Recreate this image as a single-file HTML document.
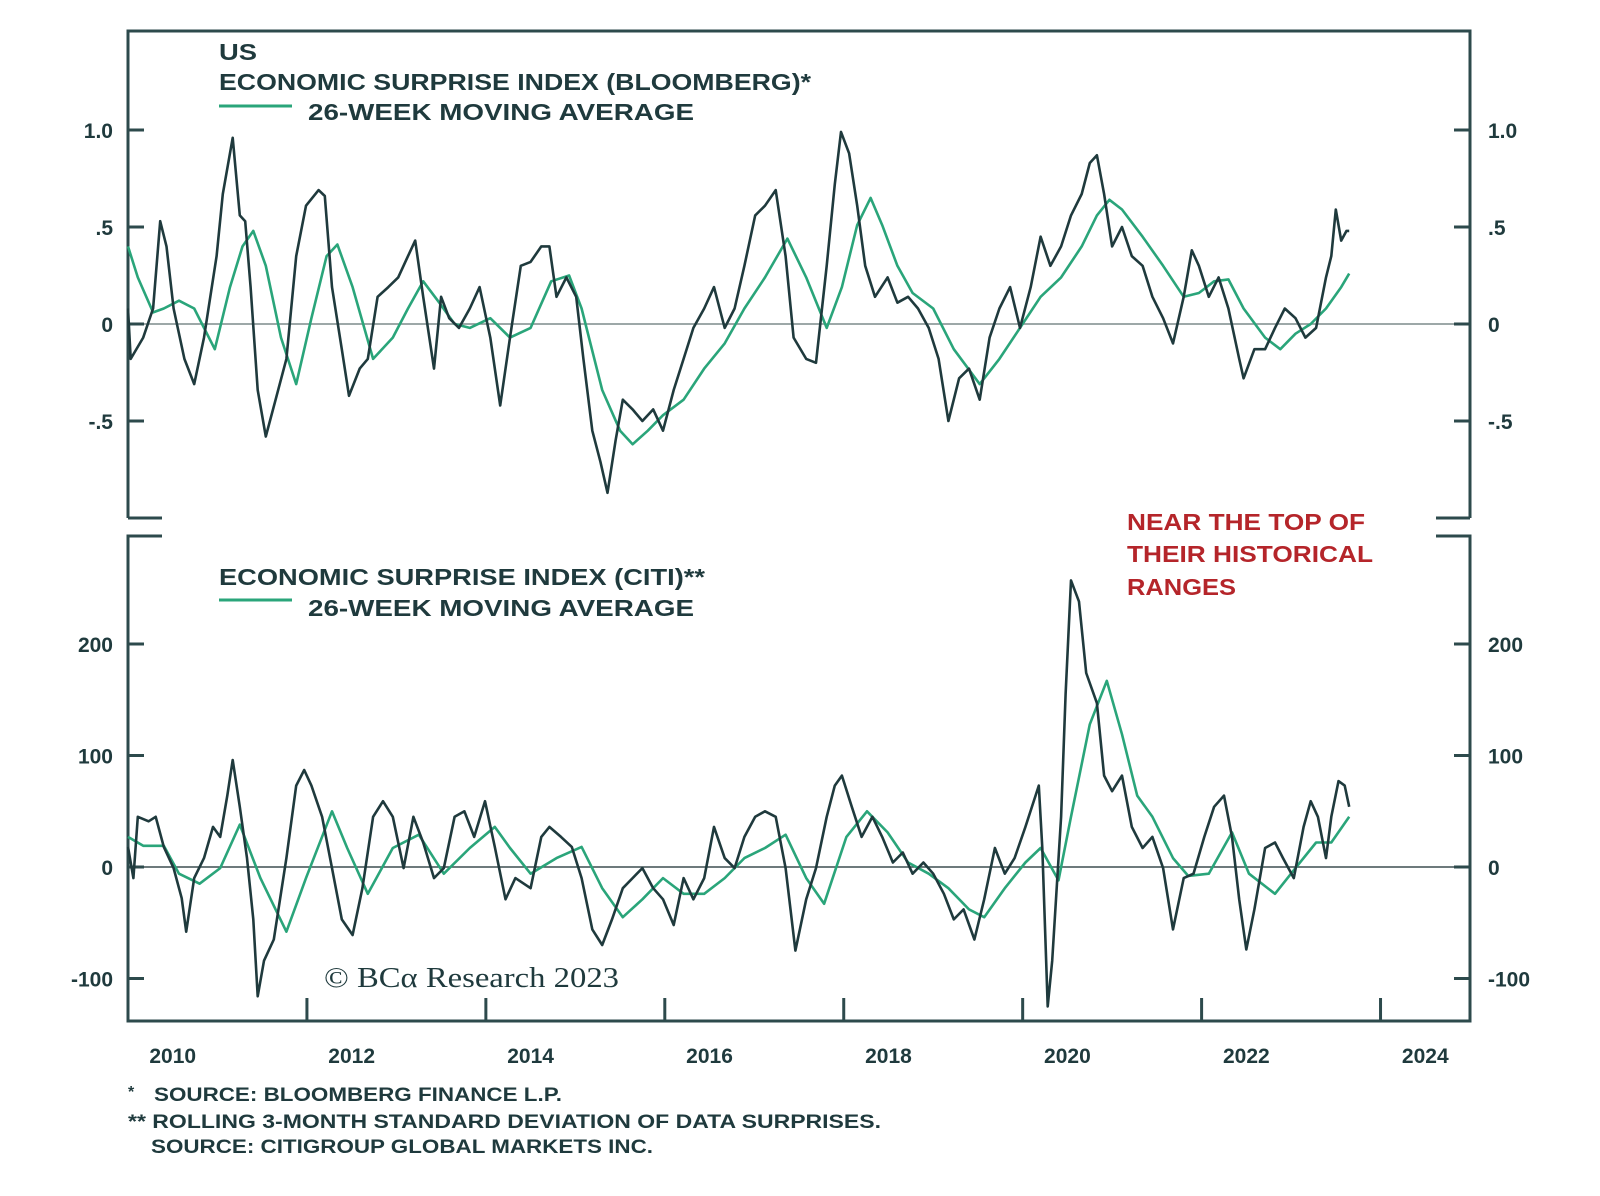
<!DOCTYPE html>
<html><head><meta charset="utf-8"><style>
html,body{margin:0;padding:0;background:#fff;}
svg{display:block;}
text{font-family:"Liberation Sans",sans-serif;fill:#1f3a3d;font-weight:bold;}
</style></head><body>
<svg id="chart" width="1600" height="1196" viewBox="0 0 1600 1196" xmlns="http://www.w3.org/2000/svg">
<g id="frames" stroke="#2d4a4c" stroke-width="3" fill="none">
<path d="M128 518 L128 31 L1470 31 L1470 518 M128 518 L162 518 M1436 518 L1470 518"/>
<path d="M162 536 L128 536 L128 1021 L1470 1021 L1470 536 L1436 536"/>
</g>
<g id="grid"></g>
<g id="series"></g>
<g>
<text x="219" y="60" font-size="23" textLength="38" lengthAdjust="spacingAndGlyphs">US</text>
<text x="219" y="90" font-size="23" textLength="592" lengthAdjust="spacingAndGlyphs">ECONOMIC SURPRISE INDEX (BLOOMBERG)*</text>
<line x1="219" y1="106" x2="292" y2="106" stroke="#2aa57a" stroke-width="3"/>
<text x="308" y="120" font-size="23" textLength="386" lengthAdjust="spacingAndGlyphs">26-WEEK MOVING AVERAGE</text>
</g>
<g>
<text x="219" y="585" font-size="23" textLength="486" lengthAdjust="spacingAndGlyphs">ECONOMIC SURPRISE INDEX (CITI)**</text>
<line x1="219" y1="600" x2="292" y2="600" stroke="#2aa57a" stroke-width="3"/>
<text x="308" y="616" font-size="23" textLength="386" lengthAdjust="spacingAndGlyphs">26-WEEK MOVING AVERAGE</text>
</g>
<g>
<text x="1127" y="530" font-size="23" style="fill:#b5252a" textLength="238" lengthAdjust="spacingAndGlyphs">NEAR THE TOP OF</text>
<text x="1127" y="562" font-size="23" style="fill:#b5252a" textLength="246" lengthAdjust="spacingAndGlyphs">THEIR HISTORICAL</text>
<text x="1127" y="595" font-size="23" style="fill:#b5252a" textLength="109" lengthAdjust="spacingAndGlyphs">RANGES</text>
</g>
<text x="324" y="987" font-size="28" style="font-family:'Liberation Serif',serif;font-weight:normal" textLength="295" lengthAdjust="spacingAndGlyphs">© BCα Research 2023</text>
<g font-size="19">
<text x="128" y="1097" font-size="16">*</text>
<text x="154" y="1101" textLength="408" lengthAdjust="spacingAndGlyphs">SOURCE: BLOOMBERG FINANCE L.P.</text>
<text x="128" y="1128" textLength="753" lengthAdjust="spacingAndGlyphs">** ROLLING 3-MONTH STANDARD DEVIATION OF DATA SURPRISES.</text>
<text x="151" y="1153" textLength="502" lengthAdjust="spacingAndGlyphs">SOURCE: CITIGROUP GLOBAL MARKETS INC.</text>
</g>
</svg>
<script>
const topTicks=[1.0,0.5,0,-0.5];
const topTickLabels=["1.0",".5","0","-.5"];
const botTicks=[200,100,0,-100];
const botTickLabels=["200","100","0","-100"];
const xTickYears=[2012,2014,2016,2018,2020,2022,2024];
const xLabelYears=[2010,2012,2014,2016,2018,2020,2022,2024];

const bbgDates=[2010.00,2010.03,2010.17,2010.28,2010.36,2010.43,2010.51,2010.63,2010.74,2010.85,2010.99,2011.06,2011.17,2011.25,2011.31,2011.37,2011.45,2011.54,2011.65,2011.77,2011.88,2011.99,2012.13,2012.20,2012.28,2012.39,2012.47,2012.59,2012.68,2012.79,2012.91,2013.02,2013.13,2013.21,2013.30,2013.42,2013.50,2013.59,2013.70,2013.82,2013.93,2014.05,2014.16,2014.27,2014.39,2014.50,2014.62,2014.71,2014.79,2014.90,2015.01,2015.09,2015.19,2015.28,2015.36,2015.45,2015.53,2015.64,2015.75,2015.87,2015.98,2016.10,2016.21,2016.32,2016.44,2016.55,2016.67,2016.78,2016.89,2017.01,2017.12,2017.24,2017.35,2017.44,2017.58,2017.69,2017.81,2017.90,2017.97,2018.06,2018.15,2018.24,2018.35,2018.49,2018.60,2018.72,2018.83,2018.95,2019.06,2019.17,2019.29,2019.40,2019.52,2019.63,2019.74,2019.86,2019.97,2020.09,2020.20,2020.31,2020.43,2020.54,2020.66,2020.75,2020.83,2020.91,2021.00,2021.11,2021.22,2021.34,2021.45,2021.57,2021.68,2021.80,2021.89,2021.97,2022.08,2022.19,2022.30,2022.42,2022.47,2022.59,2022.71,2022.82,2022.93,2023.05,2023.16,2023.28,2023.39,2023.45,2023.50,2023.56,2023.62,2023.65];
const bbgValues=[0.08,-0.18,-0.07,0.08,0.53,0.40,0.08,-0.18,-0.31,-0.07,0.35,0.67,0.96,0.56,0.53,0.19,-0.34,-0.58,-0.39,-0.18,0.35,0.61,0.69,0.66,0.19,-0.13,-0.37,-0.23,-0.18,0.14,0.19,0.24,0.35,0.43,0.14,-0.23,0.14,0.03,-0.02,0.08,0.19,-0.07,-0.42,-0.07,0.30,0.32,0.40,0.40,0.14,0.24,0.14,-0.18,-0.55,-0.71,-0.87,-0.60,-0.39,-0.44,-0.50,-0.44,-0.55,-0.34,-0.18,-0.02,0.08,0.19,-0.02,0.08,0.30,0.56,0.61,0.69,0.35,-0.07,-0.18,-0.20,0.30,0.72,0.99,0.88,0.61,0.30,0.14,0.24,0.11,0.14,0.08,-0.02,-0.18,-0.50,-0.28,-0.23,-0.39,-0.07,0.08,0.19,-0.02,0.19,0.45,0.30,0.40,0.56,0.67,0.83,0.87,0.67,0.40,0.50,0.35,0.30,0.14,0.03,-0.10,0.14,0.38,0.30,0.14,0.24,0.08,-0.18,-0.28,-0.13,-0.13,-0.02,0.08,0.03,-0.07,-0.02,0.24,0.35,0.59,0.43,0.48,0.48];

const bbgMaDates=[2010.00,2010.11,2010.28,2010.40,2010.57,2010.74,2010.97,2011.14,2011.28,2011.40,2011.54,2011.71,2011.88,2012.05,2012.22,2012.34,2012.51,2012.74,2012.96,2013.13,2013.30,2013.48,2013.65,2013.82,2014.05,2014.27,2014.50,2014.73,2014.93,2015.07,2015.30,2015.50,2015.64,2015.81,2015.98,2016.21,2016.44,2016.67,2016.89,2017.12,2017.37,2017.58,2017.81,2017.98,2018.15,2018.30,2018.43,2018.60,2018.77,2019.00,2019.23,2019.52,2019.74,2019.97,2020.20,2020.43,2020.66,2020.83,2020.97,2021.11,2021.34,2021.57,2021.80,2021.97,2022.14,2022.30,2022.47,2022.71,2022.88,2023.05,2023.22,2023.39,2023.56,2023.65];
const bbgMaValues=[0.40,0.24,0.06,0.08,0.12,0.08,-0.13,0.19,0.40,0.48,0.30,-0.07,-0.31,0.03,0.35,0.41,0.19,-0.18,-0.07,0.08,0.22,0.11,0.00,-0.02,0.03,-0.07,-0.02,0.22,0.25,0.08,-0.34,-0.55,-0.62,-0.55,-0.47,-0.39,-0.23,-0.10,0.08,0.24,0.44,0.24,-0.02,0.19,0.51,0.65,0.51,0.30,0.16,0.08,-0.13,-0.31,-0.18,-0.02,0.14,0.24,0.40,0.56,0.64,0.59,0.45,0.30,0.14,0.16,0.22,0.23,0.08,-0.07,-0.13,-0.05,0.00,0.08,0.19,0.26];

const citiDates=[2010.00,2010.06,2010.11,2010.23,2010.31,2010.40,2010.51,2010.60,2010.65,2010.74,2010.85,2010.95,2011.03,2011.11,2011.17,2011.25,2011.33,2011.40,2011.45,2011.52,2011.63,2011.77,2011.88,2011.97,2012.05,2012.17,2012.28,2012.39,2012.51,2012.62,2012.74,2012.85,2012.96,2013.08,2013.19,2013.30,2013.42,2013.53,2013.65,2013.76,2013.87,2013.99,2014.10,2014.22,2014.33,2014.50,2014.62,2014.71,2014.84,2014.96,2015.07,2015.19,2015.30,2015.41,2015.53,2015.64,2015.75,2015.87,2015.98,2016.10,2016.21,2016.32,2016.44,2016.55,2016.67,2016.78,2016.89,2017.01,2017.12,2017.24,2017.35,2017.46,2017.58,2017.69,2017.81,2017.90,2017.98,2018.09,2018.20,2018.32,2018.43,2018.55,2018.66,2018.77,2018.89,2019.00,2019.12,2019.23,2019.34,2019.46,2019.57,2019.69,2019.80,2019.91,2020.03,2020.18,2020.22,2020.28,2020.33,2020.43,2020.48,2020.54,2020.63,2020.71,2020.83,2020.91,2021.00,2021.11,2021.22,2021.34,2021.45,2021.57,2021.68,2021.80,2021.91,2022.03,2022.14,2022.25,2022.34,2022.42,2022.50,2022.59,2022.71,2022.82,2022.91,2023.03,2023.14,2023.22,2023.30,2023.39,2023.45,2023.53,2023.60,2023.65];
const citiValues=[18,-10,45,41,45,18,-1,-28,-58,-10,8,36,27,64,96,54,8,-47,-116,-84,-65,8,73,87,73,45,-1,-47,-61,-19,45,59,45,-1,45,22,-10,-1,45,50,27,59,18,-29,-10,-19,27,36,27,18,-10,-56,-70,-47,-19,-10,-1,-19,-29,-52,-10,-29,-10,36,8,-1,27,45,50,45,-1,-75,-29,-1,45,73,82,54,27,45,27,4,13,-6,4,-6,-24,-47,-38,-65,-29,17,-6,8,36,73,17,-125,-84,45,155,257,238,174,147,82,68,82,36,17,27,-1,-56,-10,-6,27,54,64,27,-29,-74,-38,17,22,8,-10,36,59,45,8,45,77,73,54];

const citiMaDates=[2010.00,2010.17,2010.40,2010.57,2010.80,2011.03,2011.25,2011.48,2011.77,2011.99,2012.28,2012.45,2012.68,2012.96,2013.25,2013.53,2013.82,2014.10,2014.27,2014.50,2014.79,2015.07,2015.30,2015.53,2015.75,2015.98,2016.21,2016.44,2016.67,2016.89,2017.12,2017.35,2017.58,2017.78,2018.03,2018.26,2018.49,2018.72,2018.95,2019.17,2019.40,2019.57,2019.80,2020.03,2020.20,2020.40,2020.54,2020.75,2020.94,2021.11,2021.28,2021.45,2021.68,2021.85,2022.08,2022.34,2022.53,2022.82,2023.05,2023.28,2023.45,2023.65];
const citiMaValues=[27,19,19,-6,-15,-1,38,-10,-58,-10,50,17,-24,17,29,-6,17,36,17,-6,8,18,-19,-45,-29,-10,-24,-24,-10,8,17,29,-10,-33,27,50,31,4,-6,-19,-38,-45,-19,4,17,-12,45,128,167,119,64,45,8,-8,-6,31,-6,-24,-1,22,22,45];

const NS="http://www.w3.org/2000/svg";
const X0=128,X1=1470,T0=2010,T1=2025;
function xScale(t){return X0+(t-T0)*(X1-X0)/(T1-T0);}
function yTop(v){return 324-v*194;}
function yBot(v){return 867-v*1.115;}
function mk(tag,attrs,parent){const e=document.createElementNS(NS,tag);for(const k in attrs)e.setAttribute(k,attrs[k]);parent.appendChild(e);return e;}
const grid=document.getElementById('grid');
const series=document.getElementById('series');

let z1=mk('line',{x1:X0,x2:X1,y1:yTop(0),y2:yTop(0),stroke:'#7d8b8c','stroke-width':1.5},grid);


let z2=mk('line',{x1:X0,x2:X1,y1:yBot(0),y2:yBot(0),stroke:'#3d4f50','stroke-width':1.5},grid);



function yAxis(ticks,labels,sc,prefix){
  ticks.forEach((v,i)=>{
    const y=sc(v);
    let a=mk('line',{x1:X0,x2:X0+16,y1:y,y2:y,stroke:'#2d4a4c','stroke-width':3},grid);
    
    
    let b=mk('line',{x1:X1-16,x2:X1,y1:y,y2:y,stroke:'#2d4a4c','stroke-width':3},grid);
    
    
    let l=mk('text',{x:113,y:y+8,'text-anchor':'end','font-size':21},grid);
    l.textContent=labels[i];
    
    
    let r=mk('text',{x:1488,y:y+8,'font-size':21},grid);
    r.textContent=labels[i];
    
    
  });
}
yAxis(topTicks,topTickLabels,yTop,'top-y');
yAxis(botTicks,botTickLabels,yBot,'bottom-y');

xTickYears.forEach(t=>{
  let k=mk('line',{x1:xScale(t),x2:xScale(t),y1:1021,y2:998,stroke:'#2d4a4c','stroke-width':3},grid);
  
  
});
xLabelYears.forEach(t=>{
  let l=mk('text',{x:xScale(t+0.5),y:1063,'text-anchor':'middle','font-size':21},grid);
  l.textContent=String(t);
  
  
});

function line(dates,vals,sc,color,w,name){
  let d='';
  dates.forEach((t,i)=>{d+=(i?'L':'M')+xScale(t).toFixed(1)+' '+sc(vals[i]).toFixed(1);});
  let p=mk('path',{d:d,fill:'none',stroke:color,'stroke-width':w,'stroke-linejoin':'round'},series);
  
  
}
line(bbgMaDates,bbgMaValues,yTop,'#2aa57a',2.6,'bloomberg-ma-line');
line(bbgDates,bbgValues,yTop,'#1f3a3d',2.6,'bloomberg-index-line');
line(citiMaDates,citiMaValues,yBot,'#2aa57a',2.6,'citi-ma-line');
line(citiDates,citiValues,yBot,'#1f3a3d',2.6,'citi-index-line');
</script>
</body></html>
